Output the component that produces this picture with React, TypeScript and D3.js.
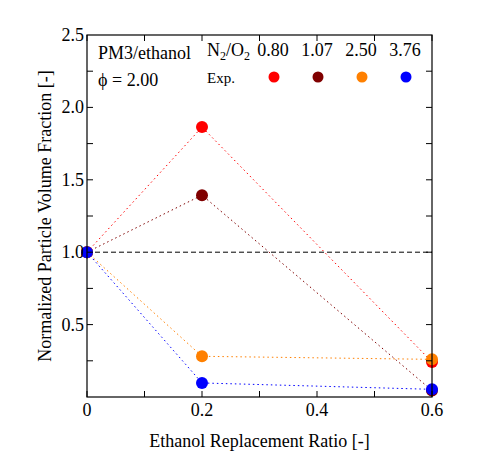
import * as d3 from 'd3';

const ratios = [0, 0.2, 0.6];
const seriesNames = ['0.80', '1.07', '2.50', '3.76'];
const seriesColors = ['#ff0000', '#800000', '#ff8000', '#0000ff'];
const red080 = [1.0, 1.864, 0.242];
const darkRed107 = [1.0, 1.394, 0.045];
const orange250 = [1.0, 0.281, 0.26];
const blue376 = [1.0, 0.097, 0.053];
const seriesValues = [red080, darkRed107, orange250, blue376];

const xMajor = [0, 0.2, 0.4, 0.6];
const xMinor = [0, 0.1, 0.2, 0.3, 0.4, 0.5, 0.6];
const yMajor = [0.5, 1.0, 1.5, 2.0, 2.5];
const yMinor = [0.25, 0.5, 0.75, 1.0, 1.25, 1.5, 1.75, 2.0, 2.25];

const W = 482;
const H = 475;
const margin = { left: 87, right: 50, top: 35, bottom: 78 };
const font = "'Liberation Serif', 'DejaVu Serif', serif";

const App = () => {
  const x = d3.scaleLinear().domain([0, 0.6]).range([margin.left, W - margin.right]);
  const y = d3.scaleLinear().domain([0, 2.5]).range([H - margin.bottom, margin.top]);
  const [x0, x1] = x.range();
  const [y0, y1] = y.range();

  const line = d3
    .line<number>()
    .x((_, i) => x(ratios[i]))
    .y((d) => y(d));

  const tickLen = 6;
  const legendX = [273, 317, 361, 405];

  return (
    <svg width={W} height={H} style={{ position: 'absolute', left: 0, top: 0, fontFamily: font }}>
      <rect width={W} height={H} fill="white" />

      {/* reference line at 1.0 */}
      <line x1={x0} x2={x1} y1={y(1)} y2={y(1)} stroke="black" strokeWidth={1} strokeDasharray="5,3" />

      {seriesValues.map((vals, k) => (
        <path
          key={'l' + k}
          d={line(vals) ?? ''}
          fill="none"
          stroke={seriesColors[k]}
          strokeWidth={1}
          strokeDasharray="1.5,3"
        />
      ))}

      {seriesValues.map((vals, k) =>
        vals.map((v, i) => (
          <circle key={'c' + k + '-' + i} cx={x(ratios[i])} cy={y(v)} r={6} fill={seriesColors[k]} />
        ))
      )}

      {/* frame */}
      <rect x={x0} y={y1} width={x1 - x0} height={y0 - y1} fill="none" stroke="black" strokeWidth={1.2} />

      {/* ticks */}
      {xMinor.map((t) => (
        <g key={'xt' + t}>
          <line x1={x(t)} x2={x(t)} y1={y0} y2={y0 - tickLen} stroke="black" />
          <line x1={x(t)} x2={x(t)} y1={y1} y2={y1 + tickLen} stroke="black" />
        </g>
      ))}
      {yMinor.map((t) => (
        <g key={'yt' + t}>
          <line x1={x0} x2={x0 + tickLen} y1={y(t)} y2={y(t)} stroke="black" />
          <line x1={x1} x2={x1 - tickLen} y1={y(t)} y2={y(t)} stroke="black" />
        </g>
      ))}

      {/* tick labels */}
      {xMajor.map((t) => (
        <text key={'xl' + t} x={x(t)} y={y0 + 19} fontSize={18} textAnchor="middle">
          {t === 0 ? '0' : d3.format('.1f')(t)}
        </text>
      ))}
      {yMajor.map((t) => (
        <text key={'yl' + t} x={x0 - 3} y={y(t) + 6} fontSize={18} textAnchor="end">
          {d3.format('.1f')(t)}
        </text>
      ))}

      {/* axis titles */}
      <text x={(x0 + x1) / 2} y={447} fontSize={18} textAnchor="middle">
        Ethanol Replacement Ratio [-]
      </text>
      <text
        transform={`translate(51, ${(y0 + y1) / 2}) rotate(-90)`}
        fontSize={18}
        textAnchor="middle"
      >
        Normalized Particle Volume Fraction [-]
      </text>

      {/* legend */}
      <text x={98} y={59} fontSize={18}>PM3/ethanol</text>
      <text x={98} y={86} fontSize={18}>ϕ = 2.00</text>
      <text x={207} y={56} fontSize={18}>
        N<tspan fontSize={12} dy={4}>2</tspan>
        <tspan dy={-4}>/O</tspan>
        <tspan fontSize={12} dy={4}>2</tspan>
      </text>
      {seriesNames.map((name, k) => (
        <text key={'ln' + k} x={legendX[k]} y={56} fontSize={18} textAnchor="middle">
          {name}
        </text>
      ))}
      <text x={207} y={83} fontSize={15}>Exp.</text>
      {seriesColors.map((c, k) => (
        <circle key={'ld' + k} cx={legendX[k] + 1} cy={77} r={5.5} fill={c} />
      ))}
    </svg>
  );
};

export default App;
